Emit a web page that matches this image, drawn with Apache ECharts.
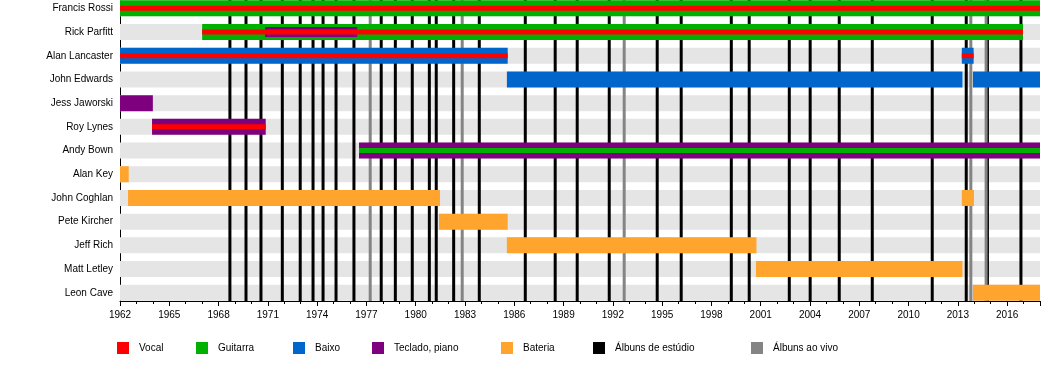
<!DOCTYPE html>
<html><head><meta charset="utf-8">
<script src="https://cdn.jsdelivr.net/npm/echarts@6/dist/echarts.min.js"></script>
<style>html,body{margin:0;padding:0;background:#fff}#chart{width:1050px;height:370px}</style>
</head><body><div id="chart"></div>
<script>
// ---------------- DATA ----------------
const members = ['Francis Rossi','Rick Parfitt','Alan Lancaster','John Edwards','Jess Jaworski','Roy Lynes','Andy Bown','Alan Key','John Coghlan','Pete Kircher','Jeff Rich','Matt Letley','Leon Cave'];
const yearMin = 1962, yearMax = 2018, yearStep = 3;

const guitarBars = [['Francis Rossi',1962,2018],['Rick Parfitt',1967,2016.96]];
const bassBars = [['Alan Lancaster',1962,1985.6],['Alan Lancaster',2013.24,2013.96],['John Edwards',1985.55,2013.28],['John Edwards',2013.92,2018]];
const keysBars = [['Jess Jaworski',1962,1964],['Roy Lynes',1963.95,1970.87],['Andy Bown',1976.55,2018]];
const keysSecondary = [['Rick Parfitt',1970.83,1976.44]];
const drumBars = [['Alan Key',1962,1962.53],['John Coghlan',1962.49,1981.48],['John Coghlan',2013.24,2013.98],['Pete Kircher',1981.42,1985.6],['Jeff Rich',1985.55,2000.74],['Matt Letley',2000.71,2013.28],['Leon Cave',2013.92,2018]];
const vocalStripes = [['Francis Rossi',1962,2018],['Rick Parfitt',1967,2016.96],['Alan Lancaster',1962,1985.6],['Alan Lancaster',2013.24,2013.96],['Roy Lynes',1963.95,1970.87]];
const guitarStripes = [['Andy Bown',1976.55,2018]];
const studioAlbums = [1968.69,1969.67,1970.58,1971.88,1972.97,1973.75,1974.36,1975.15,1976.24,1977.90,1978.76,1979.79,1980.83,1981.25,1982.31,1983.87,1986.67,1988.49,1989.83,1991.78,1994.70,1996.16,1999.21,2000.30,2002.74,2004.01,2005.78,2007.79,2011.44,2013.51,2014.80,2016.84];
const liveAlbums = [1977.23,1982.83,1992.69,2013.79,2014.72];

const legendNames = ['Vocal','Guitarra','Baixo','Teclado, piano','Bateria','Álbuns de estúdio','Álbuns ao vivo'];

// ---------------- STYLE ----------------
const FONT = "'Liberation Sans', Arial, Helvetica, sans-serif";
const C = {vocal:'#ff0000', guitar:'#00b000', bass:'#0066cc', keys:'#7f007f', drums:'#ffa42c', studio:'#000000', live:'#848484', band:'#e5e5e5'};
const legendLeft = [117, 196, 293, 372, 501, 593, 751];
const X_OFFSET = -3.6;

function toData(arr){ return arr.map(([m,s,e]) => [members.indexOf(m), s, e]); }

function barRenderer(h, fill){
  return function(params, api){
    const r = api.value(0);
    const s = api.coord([api.value(1), r]);
    const e = api.coord([api.value(2), r]);
    const cs = params.coordSys;
    const rect = echarts.graphic.clipRectByRect(
      {x: s[0], y: s[1]-h/2, width: e[0]-s[0], height: h},
      {x: cs.x, y: cs.y, width: cs.width, height: cs.height});
    return rect && {type:'rect', shape: rect, style:{fill: fill}};
  };
}

function barSeries(name, arr, h, fill, z){
  return {type:'custom', name: name, z: z, data: toData(arr), encode:{x:[1,2], y:0},
    itemStyle:{color: fill}, renderItem: barRenderer(h, fill), silent:true};
}

function lineSeries(name, arr, fill, z){
  return {type:'custom', name: name, z: z, data: arr.map(v => [v, 0]), encode:{x:0, y:1},
    itemStyle:{color: fill}, silent:true,
    renderItem: function(params, api){
      const x = api.coord([api.value(0), 0])[0];
      const cs = params.coordSys;
      const top = Math.max(cs.y, 0);
      return {type:'rect', shape:{x: x-1.5, y: top, width: 3, height: cs.y + cs.height + X_OFFSET - top}, style:{fill: fill}};
    }};
}

const bandSeries = {type:'custom', name:'bands', z:1, silent:true,
  data: members.map((m,i) => [yearMin, i]), encode:{x:0, y:1},
  renderItem: function(params, api){
    const y = api.coord([yearMin, api.value(1)])[1];
    const cs = params.coordSys;
    return {type:'rect', shape:{x: cs.x, y: y-8, width: cs.width, height: 16}, style:{fill: C.band}};
  }};

const legends = legendNames.map((n,i) => ({
  data:[n], left: legendLeft[i], top: 342, padding: 0, orient:'horizontal',
  icon:'rect', itemWidth: 12, itemHeight: 12, selectedMode: false,
  textStyle:{fontSize: 10, color:'#000', fontFamily: FONT, padding:[11,0,0,5]}
}));

const option = {
  animation: false,
  backgroundColor: '#fff',
  grid: {left: 120, right: 10, top: -3.5, height: 308.1, containLabel: false, outerBoundsMode: 'none'},
  legend: legends,
  xAxis: {type:'value', min: yearMin, max: yearMax, interval: yearStep, offset: X_OFFSET,
    axisLine:{show:true, onZero:false, lineStyle:{color:'#000', width:1}},
    axisTick:{show:true, length:5, lineStyle:{color:'#000', width:1}},
    minorTick:{show:true, splitNumber:3, length:3, lineStyle:{color:'#000', width:1}},
    splitLine:{show:false}, minorSplitLine:{show:false},
    axisLabel:{fontSize:10, color:'#000', fontFamily: FONT, margin: 9, showMaxLabel:false,
      formatter: v => String(v)}},
  yAxis: {type:'category', data: members, inverse: true,
    axisLine:{show:true, lineStyle:{color:'#000', width:1}},
    axisTick:{show:false}, splitLine:{show:false}, splitArea:{show:false},
    axisLabel:{fontSize:10, color:'#000', fontFamily: FONT, margin: 7}},
  series: [
    bandSeries,
    lineSeries('Álbuns de estúdio', studioAlbums, C.studio, 2),
    lineSeries('Álbuns ao vivo', liveAlbums, C.live, 2),
    barSeries('Guitarra', guitarBars, 16, C.guitar, 3),
    barSeries('Baixo', bassBars, 16, C.bass, 3),
    barSeries('Teclado, piano', keysBars, 16, C.keys, 3),
    barSeries('Bateria', drumBars, 16, C.drums, 3),
    barSeries('Teclado, piano', keysSecondary, 10, C.keys, 4),
    barSeries('Vocal', vocalStripes, 5, C.vocal, 5),
    barSeries('Guitarra', guitarStripes, 5, C.guitar, 5)
  ]
};

const chart = echarts.init(document.getElementById('chart'), null, {renderer:'canvas'});
chart.setOption(option);
</script>
</body></html>
